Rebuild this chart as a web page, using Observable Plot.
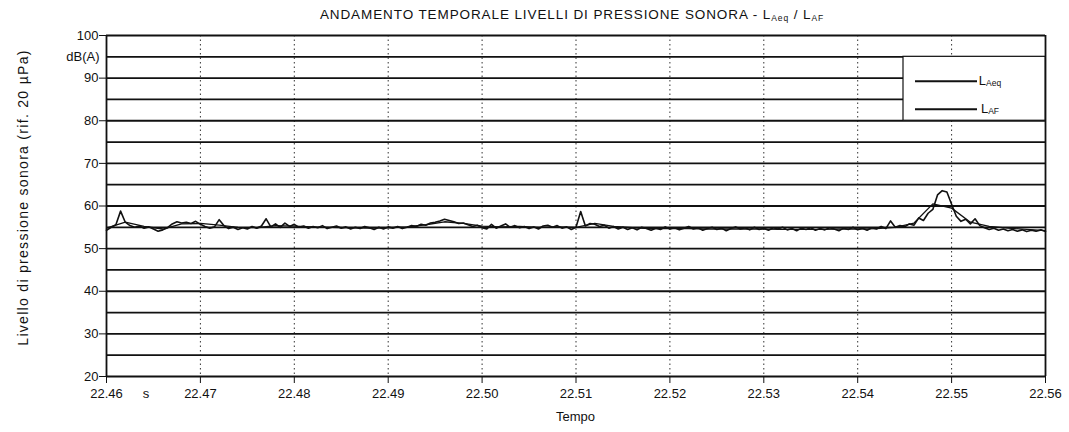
<!DOCTYPE html>
<html><head><meta charset="utf-8">
<script src="https://cdn.jsdelivr.net/npm/d3@7"></script>
<script src="https://cdn.jsdelivr.net/npm/@observablehq/plot@0.6"></script>
<style>
body{margin:0;background:#fff;}
svg{font-family:"Liberation Sans",Arial,sans-serif;}
</style>
</head><body><div id="chart"></div>
<script>
// sampling of the two time histories (hh.mm, start + step)
const t0 = 22.46;
const dtF = 0.0005;
const dtEq = 0.002;

// LAF (fast) levels, dB(A)
const lafValues = [
54.3,55.0,55.6,58.8,56.2,55.4,55.0,55.3,54.8,55.1,
54.6,54.1,54.4,54.9,55.8,56.3,56.0,56.2,55.9,56.4,
55.7,55.2,54.8,55.1,56.8,55.4,54.7,55.0,54.5,54.9,
54.6,55.2,54.8,55.3,57.0,55.1,55.8,55.0,56.0,55.2,
55.7,55.0,55.3,54.8,55.2,54.9,55.4,54.7,55.0,55.3,
54.8,55.1,54.6,55.0,54.7,55.2,54.9,54.5,55.0,54.6,
55.1,54.8,55.2,54.7,55.0,55.4,55.2,55.7,55.5,56.0,
56.2,56.5,56.9,56.6,56.3,55.9,56.0,55.6,55.2,55.5,
54.9,54.6,55.7,54.8,55.3,55.8,55.0,55.4,54.9,55.2,
54.7,55.1,54.6,55.3,55.5,55.0,55.4,54.8,55.1,54.5,
55.0,58.7,55.3,55.9,55.7,55.2,55.5,54.8,55.2,54.6,
55.0,54.5,54.9,54.4,55.0,54.7,54.3,54.8,54.5,55.1,
54.6,54.9,54.4,54.8,55.2,54.6,54.9,54.3,54.7,55.0,
54.5,54.8,54.2,54.7,55.1,54.6,54.9,54.4,55.0,54.5,
54.8,54.3,54.9,54.6,55.0,54.4,54.7,54.2,54.8,54.5,
54.9,54.3,54.7,54.4,54.9,54.6,54.2,54.8,54.5,55.0,
54.4,54.8,54.3,54.9,54.6,55.2,54.7,56.5,55.0,55.4,
55.1,55.8,55.5,57.2,56.6,58.3,59.2,62.6,63.6,63.3,
60.4,57.6,56.4,56.9,55.8,57.0,55.4,54.9,54.5,54.8,
54.3,54.6,54.2,54.5,54.1,54.4,54.0,54.3,54.1,54.4,
54.0
];

// LAeq levels, dB(A)
const laeqValues = [
54.8,56.2,55.2,54.6,55.8,55.9,55.5,55.0,54.9,55.4,
55.3,55.1,55.0,54.9,54.8,54.9,55.1,55.6,56.3,55.9,
55.3,55.1,55.2,55.0,55.1,55.0,55.9,55.2,54.9,54.7,
54.7,54.7,54.6,54.6,54.6,54.6,54.5,54.5,54.5,54.6,
54.6,54.7,55.0,56.0,60.5,59.5,56.2,55.2,54.8,54.5,
54.2
];

const xTicks = [22.46,22.47,22.48,22.49,22.50,22.51,22.52,22.53,22.54,22.55,22.56];
const xTickLabels = ["22.46","22.47","22.48","22.49","22.50","22.51","22.52","22.53","22.54","22.55","22.56"];
const yTicks = [20,30,40,50,60,70,80,90,100];
const yGrid = [20,25,30,35,40,45,50,55,60,65,70,75,80,85,90,95,100];
const unitY = 95;
const unitYLabel = "dB(A)";
const unitXLabel = "s";
const unitXAt = 22.4642;

const laf = lafValues.map((v, i) => ({t: t0 + i * dtF, v}));
const laeq = laeqValues.map((v, i) => ({t: t0 + i * dtEq, v}));

const plot = Plot.plot({
  width: 1069, height: 432,
  marginLeft: 106, marginRight: 24, marginTop: 35, marginBottom: 56,
  style: {fontFamily: '"Liberation Sans", Arial, sans-serif', fontSize: "13px", color: "#111", background: "#fff", overflow: "visible"},
  x: {domain: [22.46, 22.56], ticks: xTicks, tickFormat: d => xTickLabels[xTicks.indexOf(d)], label: null, tickSize: 7, tickPadding: 5},
  y: {domain: [20, 100], ticks: yTicks, label: null, tickSize: 7, tickPadding: 1},
  marks: [
    Plot.ruleX(xTicks, {stroke: "#333", strokeDasharray: "1.5,3", strokeWidth: 1}),
    Plot.ruleY(yGrid, {stroke: "#111", strokeWidth: 1.8}),
    Plot.ruleX([22.46, 22.56], {stroke: "#111", strokeWidth: 1.8}),
    Plot.line(laeq, {x: "t", y: "v", stroke: "#111", strokeWidth: 1.3}),
    Plot.line(laf, {x: "t", y: "v", stroke: "#111", strokeWidth: 1.6}),
    Plot.text([unitYLabel], {frameAnchor: "left", y: () => unitY, text: d => d, dx: -7, textAnchor: "end", fontSize: 13}),
    Plot.text([unitXLabel], {frameAnchor: "bottom", x: () => unitXAt, text: d => d, dy: 21, fontSize: 13})
  ]
});
document.getElementById("chart").appendChild(plot);

const svg = d3.select(plot);
const xs = plot.scale("x"), ys = plot.scale("y");
const X = v => xs.apply(v), Y = v => ys.apply(v);

// title
const title = svg.append("text")
  .attr("x", 572).attr("y", 19).attr("text-anchor", "middle")
  .attr("font-size", 13.5).attr("letter-spacing", 0.9).attr("fill", "#111");
title.append("tspan").text("ANDAMENTO TEMPORALE LIVELLI DI PRESSIONE SONORA - L");
title.append("tspan").attr("font-size", 8.5).attr("dy", 2).text("Aeq");
title.append("tspan").attr("dy", -2).text(" / L");
title.append("tspan").attr("font-size", 8.5).attr("dy", 2).text("AF");

// y axis title
svg.append("text")
  .attr("transform", `translate(28,${(Y(20) + Y(100)) / 2 - 8}) rotate(-90)`)
  .attr("text-anchor", "middle").attr("font-size", 14).attr("letter-spacing", 1.3).attr("fill", "#111")
  .text("Livello di pressione sonora (rif. 20 µPa)");

// x axis title
svg.append("text")
  .attr("x", (X(22.46) + X(22.56)) / 2).attr("y", 421).attr("text-anchor", "middle")
  .attr("font-size", 13).attr("fill", "#111").text("Tempo");

// legend
const lx0 = 903, lx1 = X(22.56), ly0 = Y(95), ly1 = Y(80);
const lg = svg.append("g");
lg.append("rect").attr("x", lx0).attr("y", ly0).attr("width", lx1 - lx0).attr("height", ly1 - ly0)
  .attr("fill", "#fff").attr("stroke", "#111").attr("stroke-width", 1.2);
const legendRows = [{name: "L", sub: "Aeq", y: ly0 + 25}, {name: "L", sub: "AF", y: ly0 + 53}];
legendRows.forEach(r => {
  lg.append("line").attr("x1", 915).attr("x2", 977).attr("y1", r.y).attr("y2", r.y)
    .attr("stroke", "#111").attr("stroke-width", 2);
  const t = lg.append("text").attr("x", 990).attr("y", r.y + 4).attr("font-size", 13).attr("fill", "#111");
  t.append("tspan").text(r.name);
  t.append("tspan").attr("font-size", 8.5).attr("dy", 1).text(r.sub);
});
</script>
</body></html>
